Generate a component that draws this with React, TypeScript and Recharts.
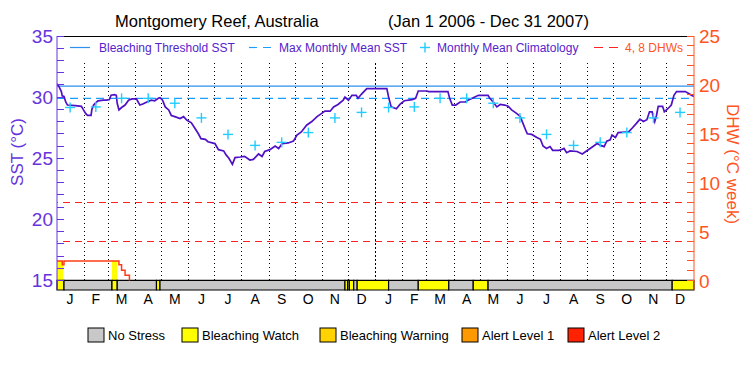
import React from "react";
import {
  ComposedChart,
  Line,
  Area,
  Scatter,
  XAxis,
  YAxis,
  ReferenceLine,
  ReferenceArea,
  Legend,
  Label,
} from "recharts";

// daily SST trace (day 0 = Jan 1 2006)
const sstDays = [
  0, 2, 5, 6, 8, 10, 12, 21, 28, 30, 33, 35, 39, 40, 42, 44, 47, 53, 57, 60, 62, 66, 68, 69, 71, 74, 78, 82, 86, 91,
  93, 95, 99, 103, 108, 112, 116, 118, 121, 124, 128, 131, 135, 141, 145, 149, 154, 158, 162, 165, 170, 173, 181,
  185, 191, 194, 197, 201, 204, 210, 215, 221, 225, 231, 235, 238, 244, 250, 254, 258, 265, 271, 275, 280, 286,
  292, 298, 303, 307, 313, 317, 322, 328, 330, 334, 338, 343, 345, 349, 355, 378, 380, 383, 389, 393, 398, 407,
  411, 414, 424, 426, 448, 450, 453, 457, 462, 468, 471, 477, 483, 494, 496, 500, 504, 508, 513, 517, 521, 527,
  531, 534, 538, 539, 544, 550, 554, 557, 561, 565, 568, 575, 578, 581, 584, 588, 596, 602, 606, 611, 615, 619,
  623, 627, 630, 634, 636, 640, 643, 655, 659, 664, 668, 672, 676, 679, 682, 683, 685, 687, 689, 694, 696, 700,
  704, 707, 710, 720, 724, 727, 730,
];
const sstValues = [
  31.1, 30.9, 30.45, 30.1, 30.05, 29.6, 29.35, 29.3, 29.25, 29.0, 28.65, 28.5, 28.5, 29.0, 29.35, 29.5, 29.7, 29.75,
  29.75, 29.8, 30.15, 30.2, 30.15, 29.5, 28.95, 29.15, 29.35, 29.75, 29.85, 29.85, 29.6, 29.35, 29.45, 29.6, 29.75,
  29.7, 29.9, 29.95, 29.75, 29.2, 28.95, 28.5, 28.4, 28.25, 28.4, 28.1, 27.9, 27.45, 27.0, 26.6, 26.55, 26.35, 26.2,
  25.7, 25.6, 25.25, 25.0, 24.5, 25.05, 25.1, 25.15, 24.85, 24.9, 25.35, 25.15, 25.55, 25.7, 26.0, 25.8, 26.2,
  26.25, 26.4, 26.9, 27.15, 27.7, 28.0, 28.4, 28.65, 28.85, 28.85, 29.2, 29.4, 29.75, 30.0, 29.75, 30.15, 30.15,
  29.9, 30.25, 30.7, 30.7, 30.0, 29.2, 29.05, 29.4, 29.7, 29.8, 29.9, 30.5, 30.5, 30.45, 30.45, 29.9, 29.35, 29.35,
  29.6, 29.6, 29.75, 29.95, 30.15, 30.15, 29.9, 29.6, 29.2, 29.4, 29.35, 29.25, 28.95, 28.65, 28.4, 27.85, 27.15,
  27.0, 26.95, 26.7, 26.55, 26.0, 25.8, 25.95, 25.65, 25.65, 25.7, 25.8, 25.45, 25.6, 25.55, 25.35, 25.55, 25.8,
  26.0, 26.2, 26.05, 25.95, 26.4, 26.5, 26.9, 26.7, 27.1, 27.15, 27.45, 27.85, 28.2, 28.0, 28.15, 28.8, 28.8, 28.5,
  28.0, 28.5, 29.25, 29.25, 28.8, 29.05, 29.35, 30.15, 30.45, 30.45, 30.3, 30.15, 30.05,
];

// monthly mean climatology, Jan..Dec
const climValues = [29.15, 29.2, 29.9, 29.9, 29.5, 28.3, 26.95, 26.05, 26.3, 27.1, 28.3, 28.75];

const monthStarts = [
  0, 31, 59, 90, 120, 151, 181, 212, 243, 273, 304, 334, 365, 396, 424, 455, 485, 516, 546, 577, 608, 638, 669,
  699, 730,
];
const monthLetters = ["J", "F", "M", "A", "M", "J", "J", "A", "S", "O", "N", "D"];
const years = ["2006", "2007"];
const yearCenters = [182.5, 547.5];

const dhwDays = [0, 6, 8, 71, 74, 78, 83];
const dhwValues = [2.0, 1.6, 2.0, 1.6, 1.05, 0.55, 0];
const watchFillDays = [0, 7, 8, 63, 69];
const watchFillValues: (number | null)[] = [2, 2, null, 2, 2];

const bleachingThreshold = 30.9;
const maxMonthlyMean = 29.9;
const dhwLevels = [4, 8];

// stress level bar: 0 = no stress, 1 = bleaching watch
const statusFrom = [0, 8, 63, 69, 114, 118, 330, 333, 335, 340, 344, 380, 414, 449, 477, 494, 705];
const statusTo = [8, 63, 69, 114, 118, 330, 333, 335, 340, 344, 380, 414, 449, 477, 494, 705, 730];
const statusLevel = [1, 0, 1, 0, 1, 0, 1, 0, 1, 0, 1, 0, 1, 0, 1, 0, 1];

const stressLabels = ["No Stress", "Bleaching Watch", "Bleaching Warning", "Alert Level 1", "Alert Level 2"];
const stressColors = ["#c8c8c8", "#ffff00", "#ffd200", "#ff9900", "#ff2200"];

const FONT = "'Liberation Sans', Arial, sans-serif";
const PURPLE = "#6633dd";
const SST_LINE = "#5010c4";
const LEGEND_PURPLE = "#5522cc";
const ORANGE = "#ff5522";
const DHW_LINE = "#ff3c14";
const RED_DASH = "#ff2424";
const THRESH = "#2d8fef";
const MMM = "#1a9fff";
const CLIM = "#22ccff";

const SST_MIN = 14.22;
const DHW_MIN = -0.97;

const sstData = sstDays.map((d, i) => ({ day: d, sst: sstValues[i] }));
const midMonths = monthStarts.slice(0, 24).map((s, i) => (s + monthStarts[i + 1]) / 2 - 0.5);
const climData = midMonths.map((d, i) => ({ day: d, clim: climValues[i % 12] }));
const dhwData = dhwDays.map((d, i) => ({ day: d, dhw: dhwValues[i] }));
const watchData = watchFillDays.map((d, i) => ({ day: d, fill: watchFillValues[i] }));
const sstTicks = Array.from({ length: 21 }, (_, i) => 15 + i);
const dhwTicks = Array.from({ length: 26 }, (_, i) => i);

const monthLabel = (v: number) => {
  const i = midMonths.indexOf(v);
  return i < 0 ? "" : monthLetters[i % 12];
};
const yearLabel = (v: number) => years[yearCenters.indexOf(v)] ?? "";

const SstTick = ({ x, y, payload }: any) => (
  <g>
    <line x1={x} y1={y} x2={x + 7} y2={y} stroke={PURPLE} shapeRendering="crispEdges" />
    {payload.value % 5 === 0 && (
      <text x={x - 4} y={y + 7} textAnchor="end" fill={PURPLE} fontSize={19}>
        {payload.value}
      </text>
    )}
  </g>
);

const DhwTick = ({ x, y, payload }: any) => (
  <g>
    <line x1={x - 7} y1={y} x2={x} y2={y} stroke={ORANGE} shapeRendering="crispEdges" />
    {payload.value % 5 === 0 && (
      <text x={x + 5} y={y + 7} textAnchor="start" fill={ORANGE} fontSize={19}>
        {payload.value}
      </text>
    )}
  </g>
);

const Cross = ({ cx, cy }: any) => (
  <g stroke={CLIM} strokeWidth={1.4}>
    <line x1={cx - 5} x2={cx + 5} y1={cy} y2={cy} />
    <line x1={cx} x2={cx} y1={cy - 5} y2={cy + 5} />
  </g>
);

const SstTitle = ({ viewBox }: any) => {
  const cx = viewBox.x + 17;
  const cy = viewBox.y + 116;
  return (
    <text x={cx} y={cy} transform={`rotate(-90 ${cx} ${cy})`} textAnchor="middle" dominantBaseline="central" fill={PURPLE} fontSize={17}>
      SST (°C)
    </text>
  );
};

const DhwTitle = ({ viewBox }: any) => {
  const cx = viewBox.x + 38;
  const cy = viewBox.y + 128;
  return (
    <text x={cx} y={cy} transform={`rotate(90 ${cx} ${cy})`} textAnchor="middle" dominantBaseline="central" fill={ORANGE} fontSize={17}>
      DHW (°C week)
    </text>
  );
};

// title, series key and stress key, all drawn in one overlay
const Keys = () => (
  <svg width={750} height={375} style={{ position: "absolute", left: 0, top: 0, fontFamily: FONT }}>
    <text x={115} y={27} fontSize={16.5} fill="#000">
      Montgomery Reef, Australia
    </text>
    <text x={388} y={27} fontSize={16.5} fill="#000">
      (Jan 1 2006 - Dec 31 2007)
    </text>

    <line x1={70} x2={90} y1={47.5} y2={47.5} stroke={THRESH} strokeWidth={1.2} />
    <text x={99} y={52} fontSize={12} fill={LEGEND_PURPLE}>
      Bleaching Threshold SST
    </text>
    <line x1={249} x2={274} y1={47.5} y2={47.5} stroke={MMM} strokeWidth={1.2} strokeDasharray="8 6" />
    <text x={279} y={52} fontSize={12} fill={LEGEND_PURPLE}>
      Max Monthly Mean SST
    </text>
    <Cross cx={425} cy={47.5} />
    <text x={437} y={52} fontSize={12} fill={LEGEND_PURPLE}>
      Monthly Mean Climatology
    </text>
    <line x1={594} x2={619} y1={47.5} y2={47.5} stroke={RED_DASH} strokeWidth={1.2} strokeDasharray="9 6" />
    <text x={625} y={52} fontSize={12} fill={ORANGE}>
      4, 8 DHWs
    </text>

    {stressLabels.map((s, i) => {
      const bx = [88, 182, 320, 462, 568][i];
      return (
        <g key={s}>
          <rect x={bx} y={328} width={16} height={14} fill={stressColors[i]} stroke="#000" />
          <text x={bx + 20} y={340} fontSize={13} fill="#000">
            {s}
          </text>
        </g>
      );
    })}
  </svg>
);

export default function App() {
  return (
    <div style={{ position: "absolute", left: 0, top: 0 }}>
      <ComposedChart
        width={750}
        height={375}
        margin={{ top: 36, right: 0, bottom: 45, left: 0 }}
        style={{ fontFamily: FONT, background: "#fff" }}
      >
        <XAxis
          dataKey="day"
          type="number"
          domain={[0, 730]}
          allowDataOverflow
          ticks={midMonths}
          interval={0}
          tickFormatter={monthLabel}
          axisLine={false}
          tickLine={false}
          tickSize={0}
          tickMargin={4}
          height={20}
          tick={{ fontSize: 14, fill: "#000" }}
        />
        <XAxis
          xAxisId="yr"
          dataKey="day"
          type="number"
          domain={[0, 730]}
          ticks={yearCenters}
          interval={0}
          tickFormatter={yearLabel}
          axisLine={false}
          tickLine={false}
          tickSize={0}
          tickMargin={1}
          height={20}
          tick={{ fontSize: 14, fill: "#000" }}
        />
        <YAxis
          yAxisId="sst"
          orientation="left"
          type="number"
          domain={[SST_MIN, 35]}
          allowDataOverflow
          ticks={sstTicks}
          interval={0}
          width={57}
          tickSize={0}
          tickMargin={0}
          tickLine={false}
          axisLine={{ stroke: PURPLE }}
          tick={<SstTick />}
        >
          <Label content={<SstTitle />} />
        </YAxis>
        <YAxis
          yAxisId="dhw"
          orientation="right"
          type="number"
          domain={[DHW_MIN, 25]}
          allowDataOverflow
          ticks={dhwTicks}
          interval={0}
          width={56}
          tickSize={0}
          tickMargin={0}
          tickLine={false}
          axisLine={{ stroke: ORANGE }}
          tick={<DhwTick />}
        >
          <Label content={<DhwTitle />} />
        </YAxis>

        <ReferenceLine yAxisId="sst" y={35} stroke="#000" shapeRendering="crispEdges" />
        {monthStarts.slice(1, 24).map((d) => (
          <ReferenceLine
            key={d}
            yAxisId="sst"
            segment={[
              { x: d, y: 32.77 },
              { x: d, y: 15 },
            ]}
            stroke="#000"
            strokeDasharray={d === 365 ? "2 2" : "1 3"}
            shapeRendering="crispEdges"
          />
        ))}
        <ReferenceLine yAxisId="sst" y={bleachingThreshold} stroke={THRESH} strokeWidth={1.2} />
        <ReferenceLine yAxisId="sst" y={maxMonthlyMean} stroke={MMM} strokeWidth={1.2} strokeDasharray="8 5" />
        {dhwLevels.map((v) => (
          <ReferenceLine
            key={v}
            yAxisId="dhw"
            y={v}
            stroke={RED_DASH}
            strokeWidth={1.2}
            strokeDasharray="7 5"
            shapeRendering="crispEdges"
          />
        ))}

        <Area
          yAxisId="dhw"
          data={watchData}
          dataKey="fill"
          type="stepAfter"
          fill="#ffff00"
          fillOpacity={1}
          stroke="none"
          isAnimationActive={false}
        />
        <Line
          yAxisId="dhw"
          data={dhwData}
          dataKey="dhw"
          type="stepAfter"
          stroke={DHW_LINE}
          strokeWidth={1.5}
          dot={false}
          isAnimationActive={false}
        />
        <Scatter yAxisId="sst" data={climData} dataKey="clim" shape={<Cross />} isAnimationActive={false} />
        <Line
          yAxisId="sst"
          data={sstData}
          dataKey="sst"
          type="linear"
          stroke={SST_LINE}
          strokeWidth={1.7}
          dot={false}
          isAnimationActive={false}
        />

        {statusFrom.map((f, i) => (
          <ReferenceArea
            key={f}
            yAxisId="sst"
            x1={f}
            x2={statusTo[i]}
            y1={SST_MIN}
            y2={15}
            fill={stressColors[statusLevel[i]]}
            fillOpacity={1}
            stroke="#000"
            strokeWidth={1.2}
            ifOverflow="visible"
          />
        ))}

        <Legend
          verticalAlign="middle"
          align="center"
          layout="horizontal"
          wrapperStyle={{ top: 0, left: 0, width: 750, height: 375, pointerEvents: "none" }}
          content={() => <Keys />}
        />
      </ComposedChart>
    </div>
  );
}
